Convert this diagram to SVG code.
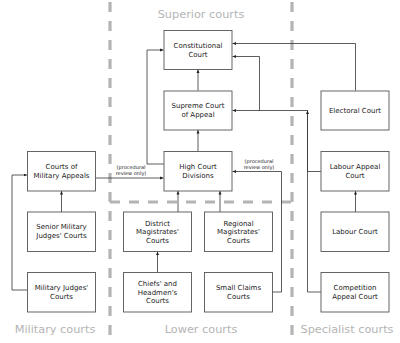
<svg xmlns="http://www.w3.org/2000/svg" width="400" height="343" viewBox="0 0 400 343">
<defs>
<marker id="ah" markerWidth="4" markerHeight="4" refX="3.5" refY="2" orient="auto" markerUnits="userSpaceOnUse">
<path d="M0,0.5 L3.5,2 L0,3.5 z" fill="#222"/>
</marker>
<style>
.box{fill:#fff;stroke:#555;stroke-width:0.9}
.t{font-family:"DejaVu Sans",Verdana,sans-serif;font-size:7px;fill:#222;text-anchor:middle}
.s{font-family:"DejaVu Sans",Verdana,sans-serif;font-size:5px;fill:#222;text-anchor:middle}
.sec{font-family:"DejaVu Sans",Verdana,sans-serif;font-size:11.3px;fill:#b4b4b4;text-anchor:middle}
.dash{fill:none;stroke:#b4b4b4;stroke-width:3.2;stroke-dasharray:10 9}
.c{fill:none;stroke:#333;stroke-width:0.8;marker-end:url(#ah)}
</style>
</defs>
<rect width="400" height="343" fill="#fff"/>
<g id="dividers">
<path class="dash" d="M110,2 V343"/>
<path class="dash" d="M292,2 V343"/>
<path class="dash" d="M110,202 H292"/>
</g>
<g id="sections">
<text class="sec" x="201" y="18">Superior courts</text>
<text class="sec" x="55" y="333">Military courts</text>
<text class="sec" x="201" y="333">Lower courts</text>
<text class="sec" x="347" y="333">Specialist courts</text>
</g>
<g id="connectors">
<path class="c" d="M198,90.5 V69.5"/>
<path class="c" d="M198,151.5 V130"/>
<path class="c" d="M164,164 H147 V50 H163.5"/>
<path class="c" d="M355.5,90.5 V43.5 H232.5"/>
<path class="c" d="M321,171.5 H307.5 V110.5 H232.5"/>
<path class="c" d="M259.5,110.5 V56.5 H232.5"/>
<path class="c" d="M321,292 H307.5 V110.5"/>
<path class="c" d="M355.5,212 V191"/>
<path class="c" d="M95.5,178 H163.5"/>
<path class="c" d="M272,292 H281.5 V171.5 H232.5"/>
<path class="c" d="M178,212 V191"/>
<path class="c" d="M220,212 V191"/>
<path class="c" d="M157.5,272.5 V251.5"/>
<path class="c" d="M61.5,212 V191"/>
<path class="c" d="M27,290 H12 V175 H27"/>
<text class="s" x="131" y="168.5">(procedural</text>
<text class="s" x="131" y="174.5">review only)</text>
<text class="s" x="259" y="163">(procedural</text>
<text class="s" x="259" y="169">review only)</text>
</g>
<g id="constitutional">
<rect class="box" x="164" y="30.5" width="68" height="39"/>
<text class="t" x="198" y="47.5">Constitutional</text>
<text class="t" x="198" y="56.5">Court</text>
</g>
<g id="supreme">
<rect class="box" x="164" y="91" width="68" height="39"/>
<text class="t" x="198" y="108">Supreme Court</text>
<text class="t" x="198" y="117">of Appeal</text>
</g>
<g id="high">
<rect class="box" x="164" y="151.5" width="68" height="39.5"/>
<text class="t" x="198" y="168.5">High Court</text>
<text class="t" x="198" y="177.5">Divisions</text>
</g>
<g id="military-appeals">
<rect class="box" x="27.5" y="151.5" width="68" height="39.5"/>
<text class="t" x="61.5" y="168.5">Courts of</text>
<text class="t" x="61.5" y="177.5">Military Appeals</text>
</g>
<g id="senior-military">
<rect class="box" x="27.5" y="212" width="68" height="39.5"/>
<text class="t" x="61.5" y="229">Senior Military</text>
<text class="t" x="61.5" y="238">Judges' Courts</text>
</g>
<g id="military-judges">
<rect class="box" x="27.5" y="272.5" width="68" height="39.5"/>
<text class="t" x="61.5" y="289.5">Military Judges'</text>
<text class="t" x="61.5" y="298.5">Courts</text>
</g>
<g id="district">
<rect class="box" x="123.5" y="212" width="68" height="39.5"/>
<text class="t" x="157.5" y="225.5">District</text>
<text class="t" x="157.5" y="234.2">Magistrates'</text>
<text class="t" x="157.5" y="242.9">Courts</text>
</g>
<g id="regional">
<rect class="box" x="204.5" y="212" width="68" height="39.5"/>
<text class="t" x="238.5" y="225.5">Regional</text>
<text class="t" x="238.5" y="234.2">Magistrates'</text>
<text class="t" x="238.5" y="242.9">Courts</text>
</g>
<g id="chiefs">
<rect class="box" x="123.5" y="272.5" width="68" height="39.5"/>
<text class="t" x="157.5" y="286">Chiefs' and</text>
<text class="t" x="157.5" y="294.7">Headmen's</text>
<text class="t" x="157.5" y="303.4">Courts</text>
</g>
<g id="small-claims">
<rect class="box" x="204.5" y="272.5" width="68" height="39.5"/>
<text class="t" x="238.5" y="289.5">Small Claims</text>
<text class="t" x="238.5" y="298.5">Courts</text>
</g>
<g id="electoral">
<rect class="box" x="321" y="91" width="68" height="39"/>
<text class="t" x="355" y="113">Electoral Court</text>
</g>
<g id="labour-appeal">
<rect class="box" x="321" y="151.5" width="68" height="39.5"/>
<text class="t" x="355" y="168.5">Labour Appeal</text>
<text class="t" x="355" y="177.5">Court</text>
</g>
<g id="labour">
<rect class="box" x="321" y="212" width="68" height="39.5"/>
<text class="t" x="355" y="234.2">Labour Court</text>
</g>
<g id="competition">
<rect class="box" x="321" y="272.5" width="68" height="39.5"/>
<text class="t" x="355" y="289.5">Competition</text>
<text class="t" x="355" y="298.5">Appeal Court</text>
</g>
</svg>
